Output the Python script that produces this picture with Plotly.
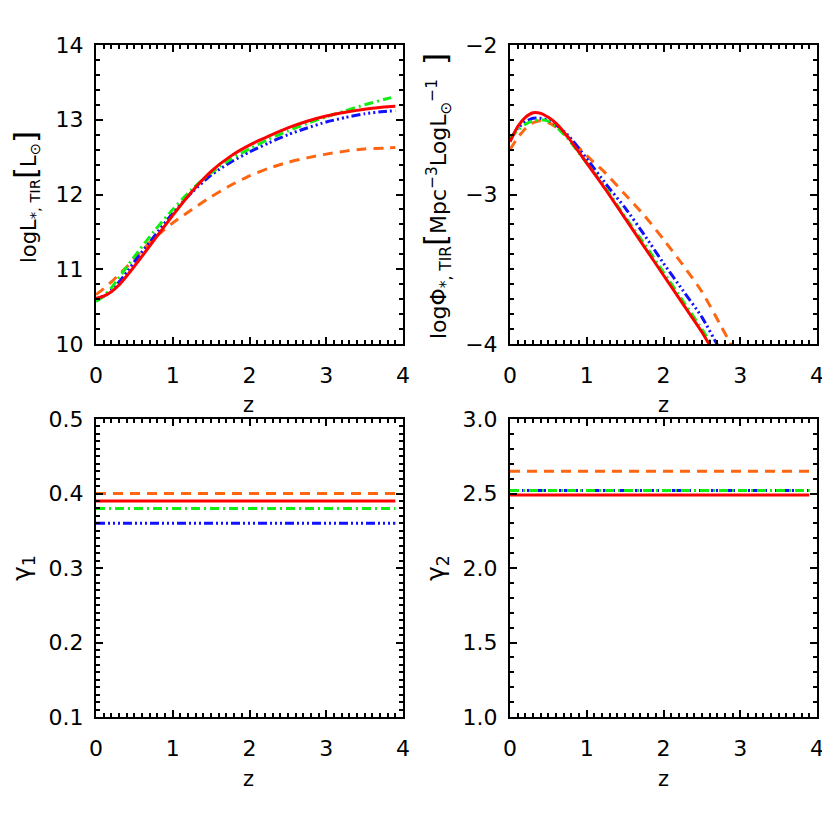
import plotly.graph_objects as go
from plotly.subplots import make_subplots

# ---------------- data ----------------
z_L = [0.0, 0.1, 0.2, 0.3, 0.4, 0.5, 0.75, 1.0, 1.25, 1.5, 1.75, 2.0, 2.25, 2.5, 2.75, 3.0, 3.25, 3.5, 3.75, 3.9]
logL_red = [10.61, 10.64, 10.70, 10.79, 10.91, 11.04, 11.38, 11.72, 12.04, 12.31, 12.51, 12.66, 12.78, 12.89, 12.98, 13.05, 13.10, 13.14, 13.17, 13.18]
logL_green = [10.57, 10.64, 10.75, 10.89, 11.03, 11.17, 11.50, 11.80, 12.07, 12.29, 12.47, 12.61, 12.74, 12.85, 12.95, 13.04, 13.12, 13.20, 13.27, 13.31]
logL_blue = [10.60, 10.64, 10.72, 10.83, 10.96, 11.10, 11.43, 11.75, 12.03, 12.26, 12.43, 12.57, 12.69, 12.80, 12.89, 12.97, 13.03, 13.08, 13.11, 13.12]
logL_orange = [10.66, 10.74, 10.83, 10.93, 11.03, 11.14, 11.41, 11.62, 11.80, 11.97, 12.12, 12.25, 12.35, 12.43, 12.49, 12.54, 12.58, 12.61, 12.62, 12.63]

z_P = [0.0, 0.1, 0.2, 0.3, 0.4, 0.5, 0.6, 0.75, 1.0, 1.25, 1.5, 1.75, 2.0, 2.25, 2.5, 2.75, 3.0]
logP_red = [-2.647, -2.546, -2.484, -2.453, -2.457, -2.484, -2.524, -2.613, -2.79, -2.97, -3.16, -3.35, -3.54, -3.73, -3.92, -4.14, -4.36]
logP_green = [-2.624, -2.57, -2.53, -2.506, -2.50, -2.51, -2.546, -2.624, -2.79, -2.96, -3.15, -3.33, -3.52, -3.71, -3.90, -4.10, -4.30]
logP_blue = [-2.635, -2.557, -2.513, -2.49, -2.49, -2.506, -2.535, -2.60, -2.76, -2.93, -3.09, -3.27, -3.46, -3.64, -3.82, -4.05, -4.25]
logP_orange = [-2.70, -2.62, -2.56, -2.52, -2.506, -2.52, -2.55, -2.613, -2.74, -2.86, -3.00, -3.14, -3.30, -3.47, -3.65, -3.88, -4.12]

z_const = [0.0, 3.9]
gamma1 = {"orange": 0.40, "red": 0.39, "green": 0.38, "blue": 0.36}
gamma2 = {"orange": 2.65, "red": 2.49, "green": 2.52, "blue": 2.52}

# ---------------- styles ----------------
COL = {"red": "#ff0000", "orange": "#ff6611", "green": "#11ee11", "blue": "#1111ff"}
DASH = {
    "red": "solid",
    "orange": "10px,7px",
    "green": "9px,4px,2px,4px",
    "blue": "9px,3px,2px,3px,2px,3px,2px,3px",
}
ORDER = ["orange", "blue", "green", "red"]
FONT = "DejaVu Sans"
PAGE = 830
OFF = 8            # default page body margin
WX = PAGE - OFF    # div fits exactly to the right window edge
WY = PAGE - 2 * OFF

fig = make_subplots(rows=2, cols=2)

series_L = {"red": logL_red, "green": logL_green, "blue": logL_blue, "orange": logL_orange}
series_P = {"red": logP_red, "green": logP_green, "blue": logP_blue, "orange": logP_orange}

for c in ORDER:
    line = dict(color=COL[c], width=3, dash=DASH[c], shape="spline", smoothing=0.6)
    fig.add_trace(go.Scatter(x=z_L, y=series_L[c], mode="lines", line=line, showlegend=False), row=1, col=1)
    fig.add_trace(go.Scatter(x=z_P, y=series_P[c], mode="lines", line=line, showlegend=False), row=1, col=2)
    line2 = dict(color=COL[c], width=3, dash=DASH[c])
    fig.add_trace(go.Scatter(x=z_const, y=[gamma1[c]] * 2, mode="lines", line=line2, showlegend=False), row=2, col=1)
    fig.add_trace(go.Scatter(x=z_const, y=[gamma2[c]] * 2, mode="lines", line=line2, showlegend=False), row=2, col=2)

def fx(p):
    return (p - OFF) / WX

def fy(p):
    return 1 - (p - OFF) / WY

common = dict(
    showgrid=False, zeroline=False, showline=True, linecolor="black", linewidth=2,
    mirror="allticks", ticks="inside", ticklen=7, tickwidth=1.5, tickcolor="black",
    tickfont=dict(family=FONT, size=22, color="black"), automargin=False,
    ticklabeloverflow="allow",
)
minor_common = dict(ticks="inside", ticklen=4, tickcolor="black", tickwidth=1.5, showgrid=False)

xdom = {1: [fx(96), fx(403)], 2: [fx(510), fx(817)]}
ydom = {1: [fy(344), fy(45)], 2: [fy(717), fy(419)]}
yranges = {(1, 1): ([10, 14], 1, 0.2), (1, 2): ([-4, -2], 1, 0.1),
           (2, 1): ([0.1, 0.5], 0.1, 0.01), (2, 2): ([1.0, 3.0], 0.5, 0.1)}

for r in (1, 2):
    for c in (1, 2):
        fig.update_xaxes(domain=xdom[c], range=[0, 4], dtick=1, tick0=0,
                         minor=dict(dtick=0.1, **minor_common),
                         ticklabelstandoff=11, row=r, col=c, **common)
        rng, dt, mdt = yranges[(r, c)]
        fmt = ".1f" if (r, c) == (2, 2) else ""
        fig.update_yaxes(domain=ydom[r], range=rng, dtick=dt, tick0=rng[0], tickformat=fmt,
                         minor=dict(dtick=mdt, **minor_common),
                         ticklabelstandoff=6, row=r, col=c, **common)

big = "<span style='font-size:31px'>%s</span>"
ann_font = dict(family=FONT, size=21, color="black")
annotations = [
    dict(x=fx(25), y=fy(197), textangle=-90,
         text="logL<sub>*, TIR</sub>" + big % "[" + "L<sub>⊙</sub>" + big % "]"),
    dict(x=fx(436), y=fy(196), textangle=-90, font=dict(family=FONT, size=22, color="black"),
         text="logΦ<sub>*, TIR</sub>" + big % "[" + "Mpc<sup>−3</sup>LogL<sub>⊙</sub><sup>−1</sup>  " + big % "]"),
    dict(x=fx(23), y=fy(568), textangle=-90, font=dict(family=FONT, size=25, color="black"),
         text="γ<sub>1</sub>"),
    dict(x=fx(437), y=fy(568), textangle=-90, font=dict(family=FONT, size=25, color="black"),
         text="γ<sub>2</sub>"),
    dict(x=fx(249), y=fy(405), text="z"),
    dict(x=fx(663), y=fy(405), text="z"),
    dict(x=fx(249), y=fy(779), text="z"),
    dict(x=fx(663), y=fy(779), text="z"),
]
for a in annotations:
    a.setdefault("font", ann_font)
    a.update(xref="paper", yref="paper", showarrow=False, xanchor="center", yanchor="middle")

fig.update_layout(
    width=WX, height=WY, margin=dict(l=0, r=0, t=0, b=0, autoexpand=False),
    paper_bgcolor="white", plot_bgcolor="white",
    annotations=annotations,
)

fig.write_html("out.html")
